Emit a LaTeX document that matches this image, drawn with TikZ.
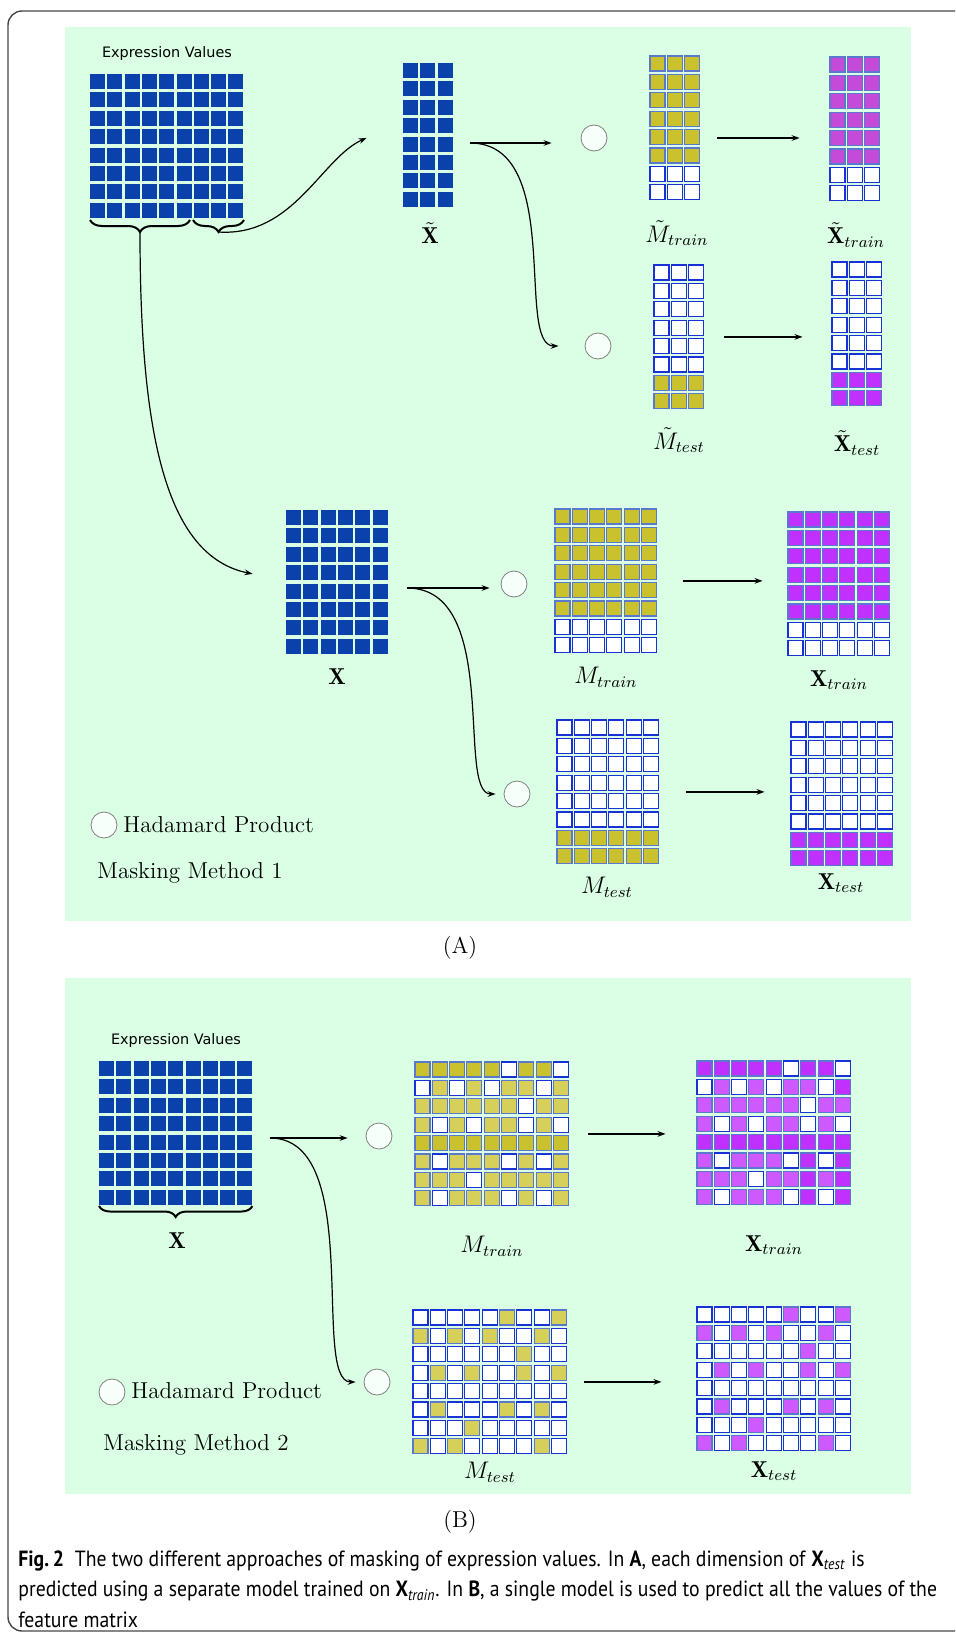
\documentclass[tikz,border=0pt]{standalone}
\usepackage{fontspec}
\usetikzlibrary{arrows.meta,decorations.pathreplacing,fit}

\newfontfamily\exfont{DejaVu Sans}
\newfontfamily\capfont[FakeStretch=0.896]{PT Sans}

\definecolor{bggreen}{RGB}{218,255,228}
\definecolor{exblue}{RGB}{11,65,170}
\definecolor{edgeblue}{RGB}{25,50,215}
\definecolor{edgesoft}{RGB}{90,120,205}
\definecolor{olivedk}{RGB}{201,194,46}
\definecolor{olivelt}{RGB}{214,207,90}
\definecolor{purpdk}{RGB}{192,48,255}
\definecolor{purplt}{RGB}{206,90,255}
\definecolor{magsoft}{RGB}{195,75,215}
\definecolor{framegray}{RGB}{70,70,70}
\definecolor{hpfill}{RGB}{246,255,249}

\tikzset{
  bl/.style={fill=exblue},
  wh/.style={fill=white,draw=edgeblue,line width=0.55pt},
  ol/.style={fill=olivedk,draw=edgesoft,line width=0.55pt},
  olt/.style={fill=olivelt,draw=edgesoft,line width=0.55pt},
  pu/.style={fill=purpdk,draw=edgesoft,line width=0.55pt},
  pul/.style={fill=purplt,draw=edgesoft,line width=0.55pt},
  mg/.style={fill=magsoft,draw=edgesoft,line width=0.55pt},
  mk0/.style={wh}, mk1/.style={olt}, mk2/.style={ol},
  xp0/.style={wh}, xp1/.style={pul}, xp2/.style={pu},
  hp/.style={circle,draw=gray,fill=hpfill,line width=0.4pt,minimum size=13pt,inner sep=0},
  lbl/.style={font=\fontsize{11.5}{14}\selectfont,inner sep=0},
  exlbl/.style={font=\exfont\fontsize{7.2}{9}\selectfont,inner sep=0},
  arr/.style={-{Stealth[length=4pt,width=2.8pt]},line width=0.6pt},
  brc/.style={decorate,decoration={brace,mirror,amplitude=#1},line width=1pt},
}

% 8-row grid: name, x, y, columns, rows in top style, top style, bottom style
\newcommand{\gridmat}[7]{%
  \foreach \r in {0,...,7}{
    \foreach \k in {1,...,#4}{
      \ifnum\r<#5\relax\tikzset{cst/.style={#6}}\else\tikzset{cst/.style={#7}}\fi
      \path[cst] (#2+\k*17.3-17.3,#3+\r*18.4) rectangle +(15,15);
    }
  }
  \node[fit={(#2,#3) (#2+#4*17.3-2.3,#3+143.8)},inner sep=0] (#1) {};
}

% 9x8 grid from a pattern: name, x, y, style prefix, rows
\newcommand{\patmat}[5]{%
  \foreach \row [count=\r from 0] in {#5}{
    \foreach \v [count=\k from 0] in \row{
      \tikzset{cst/.style/.expanded={#4\v}}
      \path[cst] (#2+\k*17.3,#3+\r*18.4) rectangle +(15,15);
    }
  }
  \node[fit={(#2,#3) (#2+153.4,#3+143.8)},inner sep=0] (#1) {};
}

\begin{document}
\begin{tikzpicture}[x=0.5pt,y=-0.5pt]
  \useasboundingbox (0,0) rectangle (955,1632);
  \fill[bggreen] (64.5,27) rectangle (911,921);
  \fill[bggreen] (64.5,978) rectangle (911,1494);
  \draw[framegray,line width=0.7pt,rounded corners=7pt] (955,11) -- (8,11) -- (8,1631) -- (955,1631);

  % masking method 1
  \node[exlbl] (evA) at (167,54) {Expression Values};
  \gridmat{exA}{90}{74}{9}{8}{bl}{bl}
  \draw[brc=6pt] (90,220) -- (190,220);
  \draw[brc=6pt] (193,220) -- (244,220);
  \coordinate (tipA1) at (140,232);
  \coordinate (tipA2) at (218.5,232);

  \gridmat{xtA}{403}{63}{3}{8}{bl}{bl}
  \node[lbl] (lxtA) at (430,233) {$\tilde{\mathbf{X}}$};
  \gridmat{mtrA}{650}{56}{3}{6}{ol}{wh}
  \node[lbl] (lmtrA) at (677,233) {$\tilde{M}_{train}$};
  \gridmat{xtrA}{830}{57}{3}{6}{mg}{wh}
  \node[lbl] (lxtrA) at (856,235) {$\tilde{\mathbf{X}}_{train}$};
  \gridmat{mteA}{654}{265}{3}{6}{wh}{ol}
  \node[lbl] (lmteA) at (679,440) {$\tilde{M}_{test}$};
  \gridmat{xteA}{832}{262}{3}{6}{wh}{pu}
  \node[lbl] (lxteA) at (857,443) {$\tilde{\mathbf{X}}_{test}$};

  \node[hp] (hpA1) at (594,138) {};
  \node[hp] (hpA2) at (598,346) {};
  \coordinate (fkA) at (470,143);

  \draw[arr] (tipA2) .. controls +(75,5) and +(-45,20) .. ([xshift=-18pt,yshift=-1.5pt]xtA.west);
  \draw[arr,shorten >=14.5pt] (fkA) -- (fkA -| hpA1.west);
  \draw[arr] (fkA) .. controls +(95,0) and +(-44,0) .. ([xshift=-13pt]hpA2.west);
  \draw[arr,shorten <=8.5pt,shorten >=15pt] (mtrA.east |- hpA1) -- (xtrA.west |- hpA1);
  \draw[arr,shorten <=10pt,shorten >=14.5pt] (mteA.east) -- (mteA.east -| xteA.west);

  \gridmat{xA}{286}{510}{6}{8}{bl}{bl}
  \node[lbl] (lxA) at (337,677) {$\mathbf{X}$};
  \draw[arr] (tipA1) .. controls +(0,199) and +(-88,-18) .. ([xshift=-16.5pt,yshift=4pt]xA.west);

  \node[hp] (hp1a) at (514,584) {};
  \node[hp] (hp1b) at (517,794) {};
  \coordinate (fk1) at (407,588);
  \gridmat{mtr1}{555}{509}{6}{6}{ol}{wh}
  \node[lbl] (lmtr1) at (606,677) {$M_{train}$};
  \gridmat{xtr1}{788}{512}{6}{6}{pu}{wh}
  \node[lbl] (lxtr1) at (839,680) {$\mathbf{X}_{train}$};
  \gridmat{mte1}{557}{720}{6}{6}{wh}{ol}
  \node[lbl] (lmte1) at (607,887) {$M_{test}$};
  \gridmat{xte1}{791}{722}{6}{6}{wh}{pu}
  \node[lbl] (lxte1) at (841,883) {$\mathbf{X}_{test}$};

  \draw[arr,shorten >=5.5pt] (fk1) -- (fk1 -| hp1a.west);
  \draw[arr] (fk1) .. controls +(95,0) and +(-40,0) .. ([xshift=-4pt]hp1b.west);
  \draw[arr,shorten <=13pt,shorten >=12.5pt] (mtr1.east) -- (mtr1.east -| xtr1.west);
  \draw[arr,shorten <=13.5pt,shorten >=13pt] (mte1.east) -- (mte1.east -| xte1.west);

  \node[hp] (hpkA) at (104,825) {};
  \node[lbl,anchor=base west] (kA) at (123,832) {Hadamard Product};
  \node[lbl,anchor=base west] (mmA) at (97,878) {Masking Method 1};
  \node[lbl] (capA) at (460,948) {(A)};

  % masking method 2
  \node[exlbl] (evB) at (176,1041) {Expression Values};
  \gridmat{exB}{99}{1061}{9}{8}{bl}{bl}
  \draw[brc=5.5pt] (99,1206) -- (252.4,1206);
  \node[lbl] (lxB) at (177,1241) {$\mathbf{X}$};

  \node[hp] (hp2a) at (379,1136) {};
  \node[hp] (hp2b) at (377,1382) {};
  \coordinate (fkB) at (270,1138);

  \patmat{mtr2}{415}{1062}{mk}{{2,2,2,2,2,0,2,2,0},{0,1,0,1,0,1,1,0,1},{1,1,1,1,1,1,0,1,1},{1,0,1,0,1,1,0,1,0},
    {2,2,2,2,2,2,2,2,2},{1,0,1,1,1,0,1,0,1},{1,1,1,0,1,1,1,1,1},{1,0,1,1,1,0,1,0,1}}
  \node[lbl] (lmtr2) at (492,1246) {$M_{train}$};
  \patmat{xtr2}{697}{1061}{xp}{{2,2,2,2,2,0,2,2,0},{0,1,0,1,0,1,1,0,2},{1,1,1,1,1,1,0,1,1},{1,0,1,0,1,1,0,1,0},
    {2,2,2,2,2,2,2,2,2},{1,0,1,1,1,0,2,0,2},{1,1,1,0,1,1,2,1,2},{1,0,1,1,1,0,2,0,2}}
  \node[lbl] (lxtr2) at (774,1245) {$\mathbf{X}_{train}$};
  \patmat{mte2}{413}{1310}{mk}{{0,0,0,0,0,1,0,0,1},{1,0,1,0,1,0,0,1,0},{0,0,0,0,0,0,1,0,0},{0,1,0,1,0,0,1,0,1},
    {0,0,0,0,0,0,0,0,0},{0,1,0,0,0,1,0,1,0},{0,0,0,1,0,0,0,0,0},{1,0,1,0,0,0,0,1,0}}
  \node[lbl] (lmte2) at (490,1472) {$M_{test}$};
  \patmat{xte2}{697}{1307}{xp}{{0,0,0,0,0,1,0,0,1},{1,0,1,0,1,0,0,1,0},{0,0,0,0,0,0,1,0,0},{0,1,0,1,0,0,1,0,1},
    {0,0,0,0,0,0,0,0,0},{0,1,0,0,0,1,0,1,0},{0,0,0,1,0,0,0,0,0},{1,0,1,0,0,0,0,1,0}}
  \node[lbl] (lxte2) at (774,1471) {$\mathbf{X}_{test}$};

  \draw[arr,shorten >=9pt] (fkB) -- (fkB -| hp2a.west);
  \draw[arr] (fkB) .. controls +(95,0) and +(-45,0) .. ([xshift=-4pt]hp2b.west);
  \draw[arr,shorten <=9.5pt,shorten >=15.5pt] (mtr2.east) -- (mtr2.east -| xtr2.west);
  \draw[arr,shorten <=8.5pt,shorten >=17.5pt] (mte2.east) -- (mte2.east -| xte2.west);

  \node[hp] (hpkB) at (112,1392) {};
  \node[lbl,anchor=base west] (kB) at (131,1398) {Hadamard Product};
  \node[lbl,anchor=base west] (mmB) at (103,1450) {Masking Method 2};
  \node[lbl] (capB) at (460,1522) {(B)};

  \node[anchor=north west,inner sep=0,align=left,font=\capfont\fontsize{11}{15.3}\selectfont] (fig) at (18,1550)
    {\textbf{Fig.\,2}\enspace The two different approaches of masking of expression values. In \textbf{A}, each dimension of \textbf{X}\textsubscript{\textit{test}} is\\
     predicted using a separate model trained on \textbf{X}\textsubscript{\textit{train}}. In \textbf{B}, a single model is used to predict all the values of the\\
     feature matrix};
\end{tikzpicture}
\end{document}
